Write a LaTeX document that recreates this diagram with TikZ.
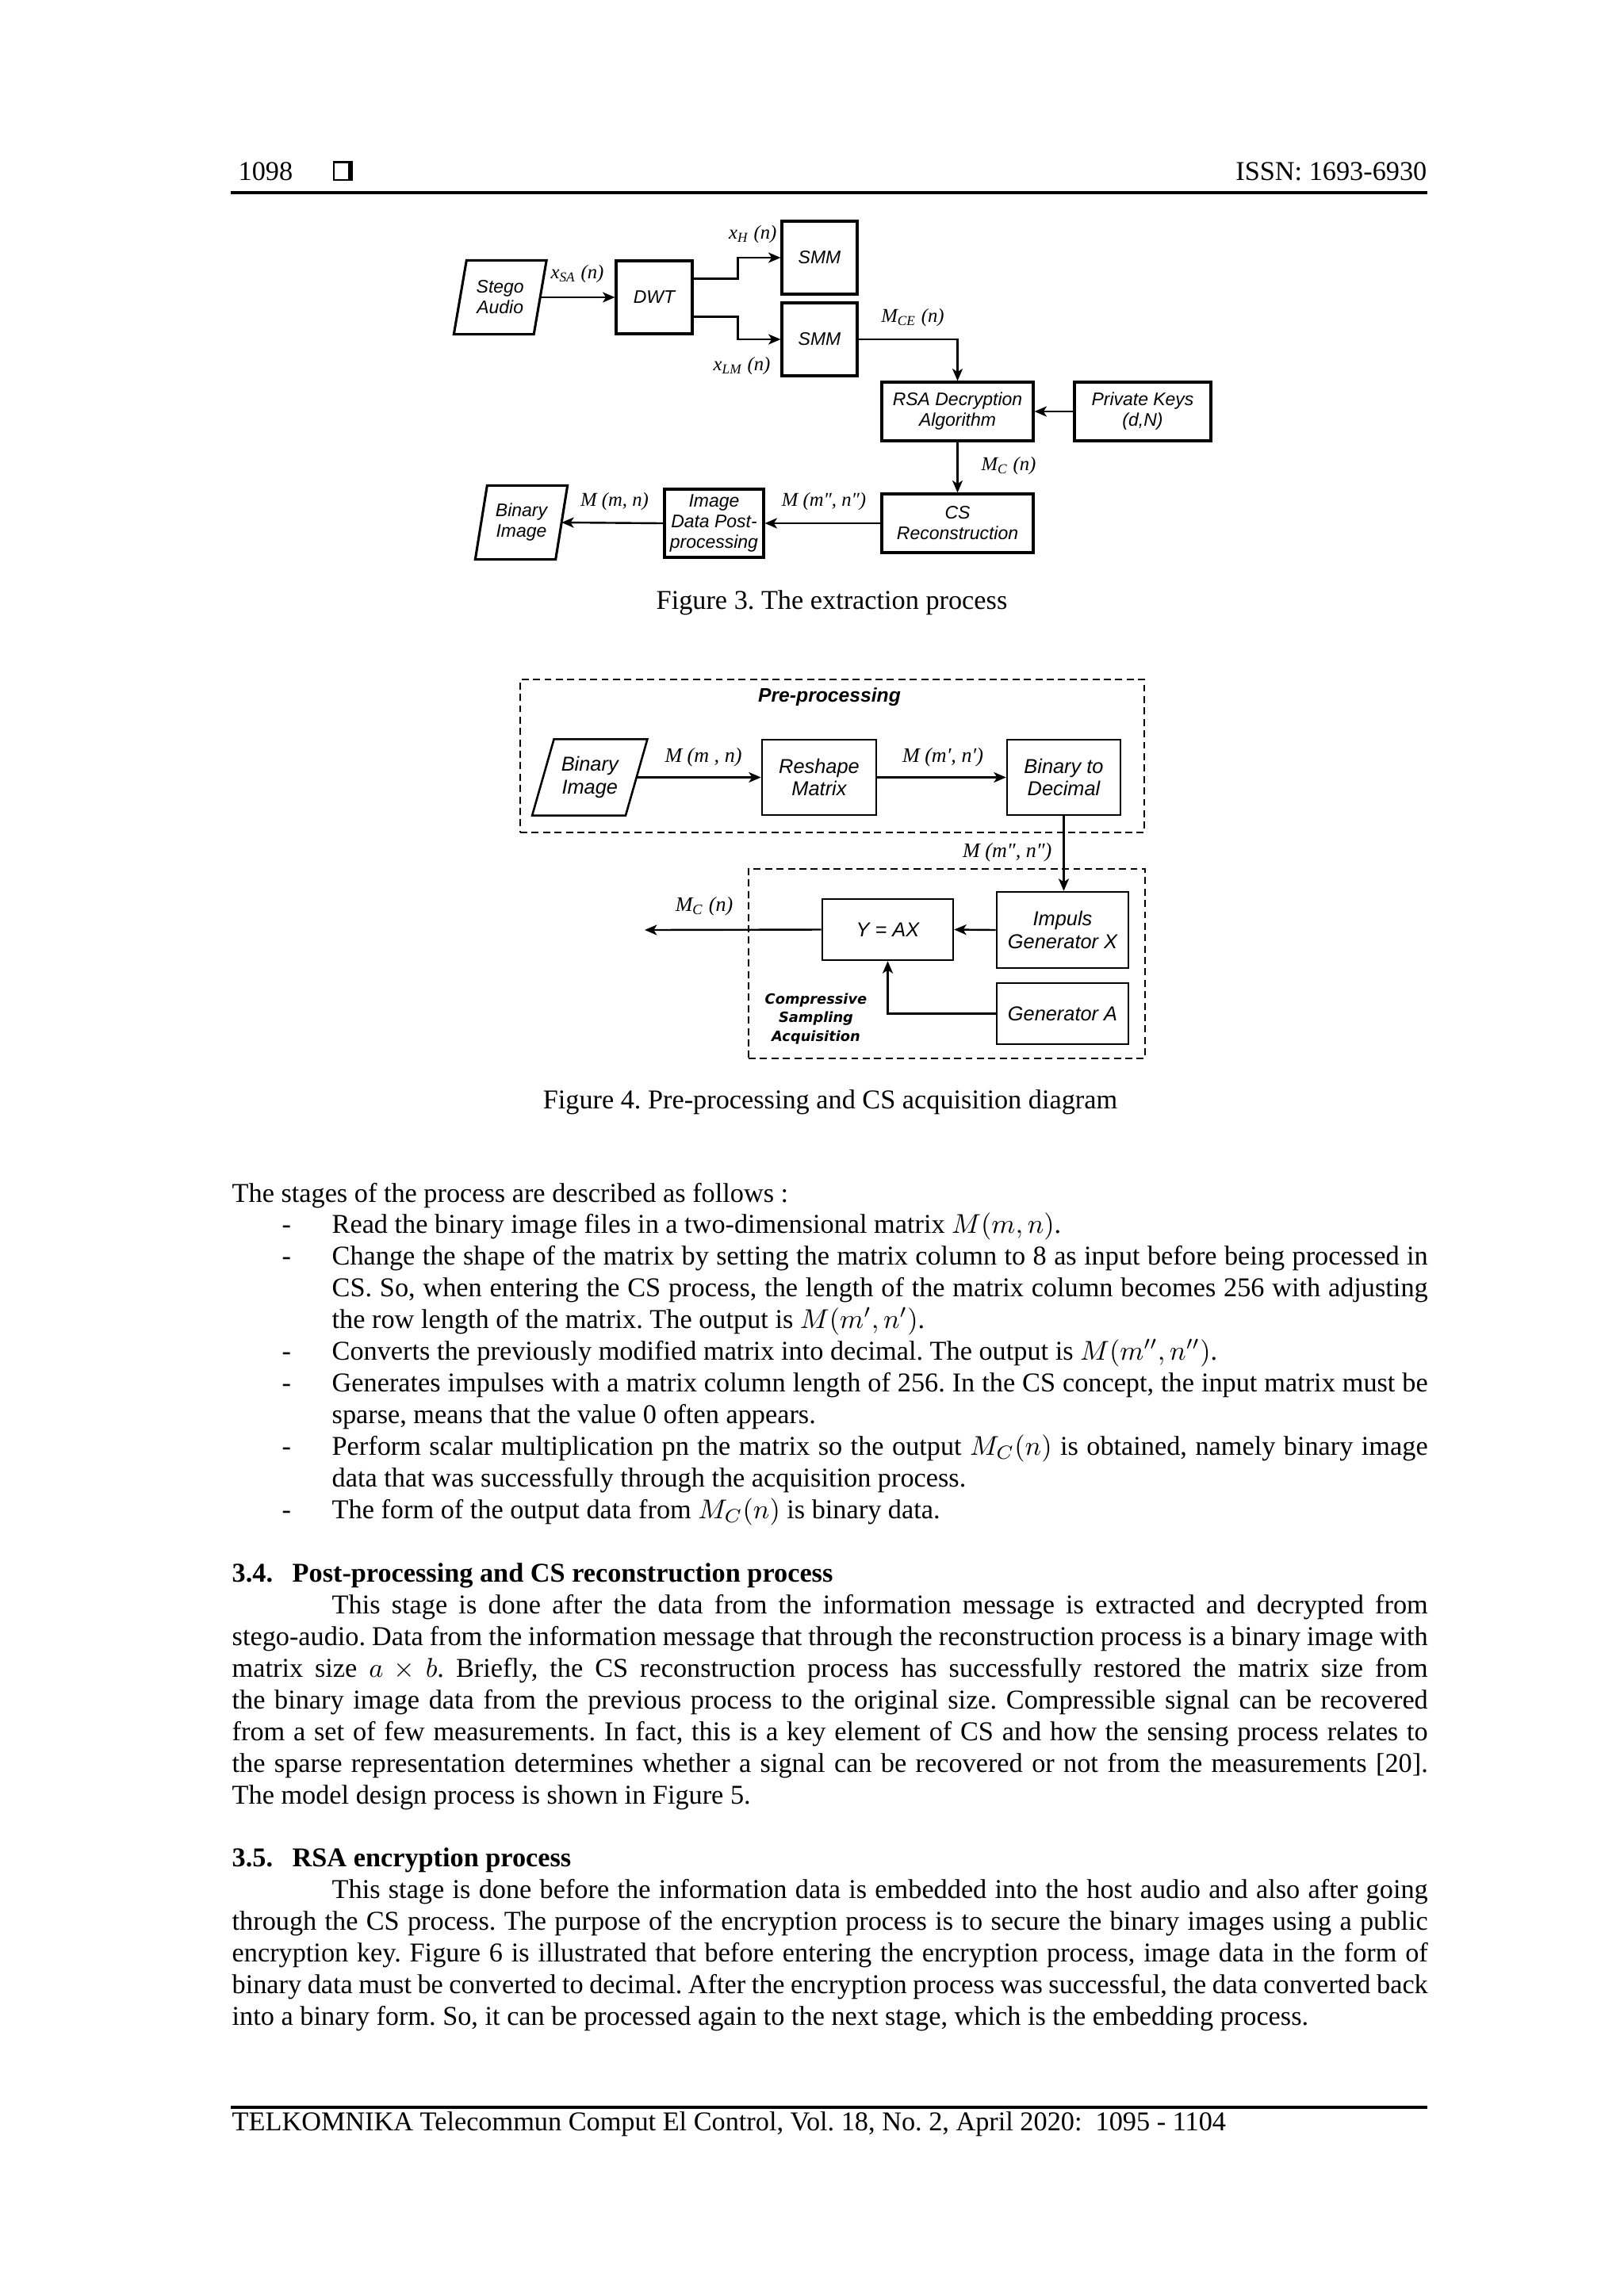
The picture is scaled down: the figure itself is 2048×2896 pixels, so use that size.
\RequirePackage{fix-cm}
\documentclass[tikz,border=0pt]{standalone}
\usepackage{fontspec}
\setmainfont{Liberation Serif}
\newfontfamily\arialf{Liberation Sans}
\newfontfamily\dejavuf{DejaVu Sans}
\usetikzlibrary{arrows.meta,calc}
\frenchspacing
\newlength\pxu
\setlength\pxu{0.0102539cm}
\newcommand\figA{\arialf\itshape\fontsize{6.7}{7.6}\selectfont}
\newcommand\figB{\arialf\itshape\fontsize{7.4}{8.4}\selectfont}
\newcommand\lblA{\itshape\fontsize{7.2}{8}\selectfont}
\newcommand\lblB{\itshape\fontsize{7.6}{8.5}\selectfont}
\newcommand\bodyf{\fontsize{10}{11.5}\selectfont}
\newcommand\jl[1]{\makebox[1508\pxu][s]{#1}}
\newcommand\jli[1]{\makebox[1382\pxu][s]{#1}}
\newcommand\parallelo[3]{\draw[line width=#3] ($(#1.south west)+(-#2,0)$) -- ($(#1.north west)+(#2,0)$) -- ($(#1.north east)+(#2,0)$) -- ($(#1.south east)+(-#2,0)$) -- cycle;}
\begin{document}
\begin{tikzpicture}[x=0.0102539cm,y=-0.0102539cm,
  boxA/.style={draw, line width=0.9pt, align=center, inner sep=0pt, font=\figA},
  boxB/.style={draw, line width=0.75pt, align=center, inner sep=0pt, font=\figB},
  plain/.style={align=center, inner sep=0pt},
  conn/.style={line width=0.7pt, -{Stealth[length=4.5pt,width=3.8pt,inset=1.2pt]}},
  lbl/.style={inner sep=0pt},
  dbox/.style={draw, dash pattern=on 2.6pt off 1.6pt, line width=0.6pt, inner sep=0pt},
  txt/.style={anchor=base west, inner sep=0pt, font=\bodyf},
  captxt/.style={anchor=base, inner sep=0pt, font=\bodyf}]
\useasboundingbox[fill=white] (0,0) rectangle (2048,2896);

% header
\node[txt] (pgno) at (300,227) {1098};
\draw[line width=0.5pt] (421,204) rectangle (444,227);
\fill (421,203) rectangle (445,206);
\fill (439,203) rectangle (445,227);
\node[txt, anchor=base east] (issn) at (1800,227) {ISSN: 1693-6930};
\draw[line width=1pt] (291,243) -- (1800,243);

% ---------------- Figure 3 ----------------
\node[plain, font=\figA, minimum width=99.5\pxu, minimum height=92\pxu] (sa) at (630.75,375) {Stego\\Audio};
\parallelo{sa}{8}{0.9pt}
\node[boxA, minimum width=96\pxu, minimum height=92\pxu] (dwt) at (825,375) {DWT};
\node[boxA, minimum width=95\pxu, minimum height=92\pxu] (smma) at (1033.5,325) {SMM};
\node[boxA, minimum width=95\pxu, minimum height=92\pxu] (smmb) at (1033.5,428) {SMM};
\node[boxA, minimum width=191\pxu, minimum height=74\pxu] (rsa) at (1207.5,519) {RSA Decryption\\Algorithm};
\node[boxA, minimum width=172\pxu, minimum height=74\pxu] (pk) at (1441,519) {Private Keys\\(d,N)};
\node[boxA, minimum width=191\pxu, minimum height=74\pxu] (csr) at (1207.5,660) {CS\\Reconstruction};
\node[boxA, minimum width=125\pxu, minimum height=86\pxu] (post) at (900.5,660) {Image\\Data Post-\\processing};
\node[plain, font=\figA, minimum width=100\pxu, minimum height=92\pxu] (bia) at (657.5,659) {Binary\\Image};
\parallelo{bia}{7.5}{0.9pt}

\draw[conn] (sa.east) -- (dwt.west);
\draw[conn] ($(dwt.north east)+(0,24)$) -- ++(56,0) |- (smma.west);
\draw[conn] ($(dwt.south east)+(0,-23)$) -- ++(56,0) |- (smmb.west);
\draw[conn] (smmb.east) -| (rsa.north);
\draw[conn] (pk.west) -- (rsa.east);
\draw[conn] (rsa.south) -- (csr.north);
\draw[conn] (csr.west) -- (post.east);
\draw[conn] (post.west) -- (bia.east);

\node[lbl, font=\lblA] (lxsa) at (728,346) {x\textsubscript{SA} (n)};
\node[lbl, font=\lblA, anchor=east] (lxh) at (980,296) {x\textsubscript{H} (n)};
\node[lbl, font=\lblA, anchor=east] (lxlm) at (972,462) {x\textsubscript{LM} (n)};
\node[lbl, font=\lblA] (lmce) at (1151,401) {M\textsubscript{CE} (n)};
\node[lbl, font=\lblA] (lmc) at (1272,588) {M\textsubscript{C} (n)};
\node[lbl, font=\lblA] (lmpp) at (1039,633) {M (m″, n″)};
\node[lbl, font=\lblA] (lmmn) at (775,633) {M (m, n)};

\node[captxt] (capa) at (1049,768) {Figure 3. The extraction process};

% ---------------- Figure 4 ----------------
\node[dbox, minimum width=787\pxu, minimum height=193\pxu] (pre) at (1049.5,953.5) {};
\node[dbox, minimum width=500\pxu, minimum height=239\pxu] (csb) at (1194,1215.5) {};
\node[lbl, font=\arialf\bfseries\itshape\fontsize{7.2}{8}\selectfont] (prel) at (1046,879) {Pre-processing};

\node[plain, font=\figB, minimum width=116.5\pxu, minimum height=95\pxu] (bib) at (743.75,980.5) {Binary\\Image};
\parallelo{bib}{13.75}{0.75pt}
\node[boxB, minimum width=144\pxu, minimum height=95\pxu] (rm) at (1033,980.5) {Reshape\\Matrix};
\node[boxB, minimum width=143\pxu, minimum height=95\pxu] (btd) at (1341.5,980.5) {Binary to\\Decimal};
\node[boxB, minimum width=165\pxu, minimum height=77\pxu] (yax) at (1119.5,1172.5) {Y = AX};
\node[boxB, minimum width=166\pxu, minimum height=96\pxu] (imp) at (1340,1173) {Impuls\\Generator X};
\node[boxB, minimum width=166\pxu, minimum height=77\pxu] (gena) at (1340,1278.5) {Generator A};
\node[plain, font=\dejavuf\bfseries\itshape\fontsize{5.2}{6.8}\selectfont] (csal) at (1029,1285) {Compressive\\Sampling\\Acquisition};
\coordinate (mcout) at (813,1173);

\draw[conn] (bib.east) -- (rm.west);
\draw[conn] (rm.east) -- (btd.west);
\draw[conn] (btd.south) -- (btd.south |- imp.north);
\draw[conn] (imp.west) -- (yax.east);
\draw[conn] (gena.west) -| (yax.south);
\draw[conn] (yax.west) -- (mcout);

\node[lbl, font=\lblB] (lbmn) at (887,955) {M (m , n)};
\node[lbl, font=\lblB] (lbmp) at (1189,955) {M (m′, n′)};
\node[lbl, font=\lblB, anchor=east] (lbmpp) at (1327,1075) {M (m″, n″)};
\node[lbl, font=\lblB] (lbmc) at (888,1143) {M\textsubscript{C} (n)};

\node[captxt] (capb) at (1047,1398) {Figure 4. Pre-processing and CS acquisition diagram};

% ---------------- body text ----------------
\node[txt] (t00) at (292,1516) {The stages of the process are described as follows :};
\node[txt] (d1) at (355,1555) {-};
\node[txt] (t01) at (418,1555) {Read the binary image files in a two-dimensional matrix $M(m,n)$.};
\node[txt] (d2) at (355,1595) {-};
\node[txt] (t02) at (418,1595) {\jli{Change the shape of the matrix by setting the matrix column to 8 as input before being processed in}};
\node[txt] (t03) at (418,1635) {\jli{CS. So, when entering the CS process, the length of the matrix column becomes 256 with adjusting}};
\node[txt] (t04) at (418,1675) {the row length of the matrix. The output is $M(m',n')$.};
\node[txt] (d3) at (355,1715) {-};
\node[txt] (t05) at (418,1715) {Converts the previously modified matrix into decimal. The output is $M(m'',n'')$.};
\node[txt] (d4) at (355,1755) {-};
\node[txt] (t06) at (418,1755) {\jli{Generates impulses with a matrix column length of 256. In the CS concept, the input matrix must be}};
\node[txt] (t07) at (418,1795) {sparse, means that the value 0 often appears.};
\node[txt] (d5) at (355,1835) {-};
\node[txt] (t08) at (418,1835) {\jli{Perform scalar multiplication pn the matrix so the output $M_C(n)$ is obtained, namely binary image}};
\node[txt] (t09) at (418,1875) {data that was successfully through the acquisition process.};
\node[txt] (d6) at (355,1915) {-};
\node[txt] (t10) at (418,1915) {The form of the output data from $M_C(n)$ is binary data.};

\node[txt, font=\bodyf\bfseries] (h34n) at (292,1995) {3.4.};
\node[txt, font=\bodyf\bfseries] (h34) at (368,1995) {Post-processing and CS reconstruction process};
\node[txt] (p01) at (418,2035) {\jli{This stage is done after the data from the information message is extracted and decrypted from}};
\node[txt] (p02) at (292,2075) {\jl{stego-audio. Data from the information message that through the reconstruction process is a binary image with}};
\node[txt] (p03) at (292,2115) {\jl{matrix size $a\times b$. Briefly, the CS reconstruction process has successfully restored the matrix size from}};
\node[txt] (p04) at (292,2155) {\jl{the binary image data from the previous process to the original size. Compressible signal can be recovered}};
\node[txt] (p05) at (292,2195) {\jl{from a set of few measurements. In fact, this is a key element of CS and how the sensing process relates to}};
\node[txt] (p06) at (292,2235) {\jl{the sparse representation determines whether a signal can be recovered or not from the measurements [20].}};
\node[txt] (p07) at (292,2275) {The model design process is shown in Figure 5.};

\node[txt, font=\bodyf\bfseries] (h35n) at (292,2354) {3.5.};
\node[txt, font=\bodyf\bfseries] (h35) at (368,2354) {RSA encryption process};
\node[txt] (q01) at (418,2394) {\jli{This stage is done before the information data is embedded into the host audio and also after going}};
\node[txt] (q02) at (292,2434) {\jl{through the CS process. The purpose of the encryption process is to secure the binary images using a public}};
\node[txt] (q03) at (292,2474) {\jl{encryption key. Figure 6 is illustrated that before entering the encryption process, image data in the form of}};
\node[txt] (q04) at (292,2514) {\jl{binary data must be converted to decimal. After the encryption process was successful, the data converted back}};
\node[txt] (q05) at (292,2554) {into a binary form. So, it can be processed again to the next stage, which is the embedding process.};

% footer
\draw[line width=1pt] (291,2658) -- (1800,2658);
\node[txt] (foot) at (292,2687) {TELKOMNIKA Telecommun Comput El Control, Vol. 18, No. 2, April 2020:\ \ 1095 - 1104};
\end{tikzpicture}
\end{document}
